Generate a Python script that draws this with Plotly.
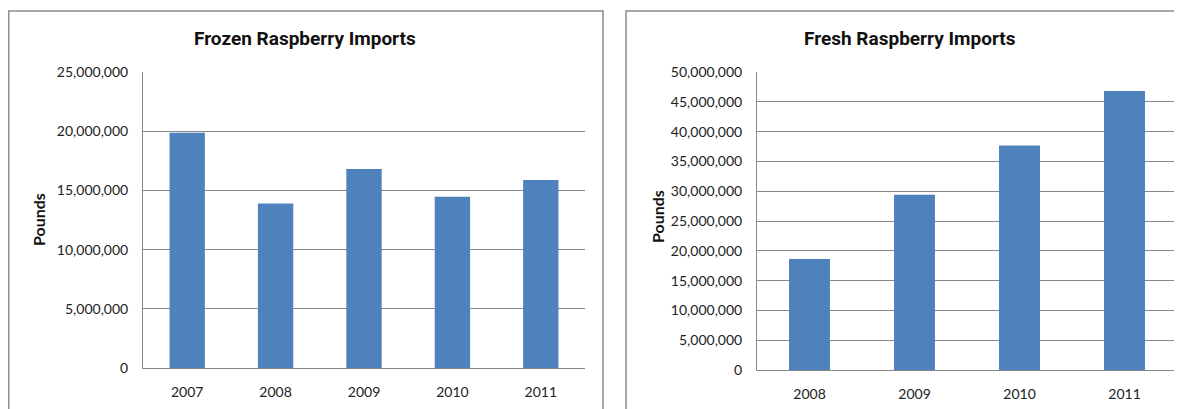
import plotly.graph_objects as go

W, H = 1182, 409
OX, OY = 8, 8  # page body margin offset of the rendered figure

frozen_years = ["2007", "2008", "2009", "2010", "2011"]
frozen_pounds = [19870000, 13900000, 16800000, 14470000, 15880000]

fresh_years = ["2008", "2009", "2010", "2011"]
fresh_pounds = [18620000, 29400000, 37650000, 46800000]

frozen_title = "Frozen Raspberry Imports"
fresh_title = "Fresh Raspberry Imports"
y_title = "Pounds"

BAR = "#4f81bd"
GRID = "#878787"
BORDER = "#8c8c8c"
TICKFONT = dict(family="Lato, Carlito, Open Sans, sans-serif", size=14, color="#222222")
TITLEFONT = dict(family="Roboto, Liberation Sans, sans-serif", size=19, color="#111111")
YTFONT = dict(family="Lato, sans-serif", size=16, color="#111111")


def px(x):
    return (x - OX) / W


def py(y):
    return 1 - (y - OY) / H


fig = go.Figure()
fig.add_trace(go.Bar(x=frozen_years, y=frozen_pounds, marker_color=BAR,
                     marker_line_width=0, xaxis="x", yaxis="y", width=0.4))
fig.add_trace(go.Bar(x=fresh_years, y=fresh_pounds, marker_color=BAR,
                     marker_line_width=0, xaxis="x2", yaxis="y2", width=0.39))

common_x = dict(type="category", showgrid=False, showline=True, linecolor=GRID,
                linewidth=1, ticks="", tickfont=TICKFONT, ticklabelstandoff=11,
                fixedrange=True, automargin=False)
common_y = dict(showgrid=True, gridcolor=GRID, gridwidth=1, showline=True,
                linecolor=GRID, linewidth=1, zeroline=False, ticks="",
                tickformat=",", tickfont=TICKFONT, ticklabelstandoff=11,
                fixedrange=True, automargin=False)

fig.update_layout(
    width=W, height=H, autosize=False,
    margin=dict(l=0, r=0, t=0, b=0, pad=0, autoexpand=False),
    paper_bgcolor="white", plot_bgcolor="white",
    showlegend=False,
    xaxis=dict(domain=[px(143), px(585)], anchor="y", **common_x),
    yaxis=dict(domain=[py(368), py(72)], anchor="x", range=[0, 25e6], dtick=5e6,
               **common_y),
    xaxis2=dict(domain=[px(757), px(1177)], anchor="y2", **common_x),
    yaxis2=dict(domain=[py(370), py(72)], anchor="x2", range=[0, 50e6], dtick=5e6,
                **common_y),
    shapes=[
        dict(type="rect", xref="paper", yref="paper", x0=0.7 / W, x1=px(603),
             y0=-0.05, y1=py(11), line=dict(color=BORDER, width=1.5)),
        dict(type="rect", xref="paper", yref="paper", x0=px(626), x1=1.05,
             y0=-0.05, y1=py(11), line=dict(color=BORDER, width=1.5)),
    ],
    annotations=[
        dict(text="<b>%s</b>" % frozen_title, xref="paper", yref="paper",
             x=px(305), y=py(39), showarrow=False, font=TITLEFONT,
             xanchor="center", yanchor="middle"),
        dict(text="<b>%s</b>" % fresh_title, xref="paper", yref="paper",
             x=px(910), y=py(39), showarrow=False, font=TITLEFONT,
             xanchor="center", yanchor="middle"),
        dict(text="<b>%s</b>" % y_title, xref="paper", yref="paper",
             x=px(39), y=py(220), showarrow=False, textangle=-90,
             font=YTFONT, xanchor="center", yanchor="middle"),
        dict(text="<b>%s</b>" % y_title, xref="paper", yref="paper",
             x=px(657), y=py(217), showarrow=False, textangle=-90,
             font=YTFONT, xanchor="center", yanchor="middle"),
    ],
)

fig.write_html("out.html")
